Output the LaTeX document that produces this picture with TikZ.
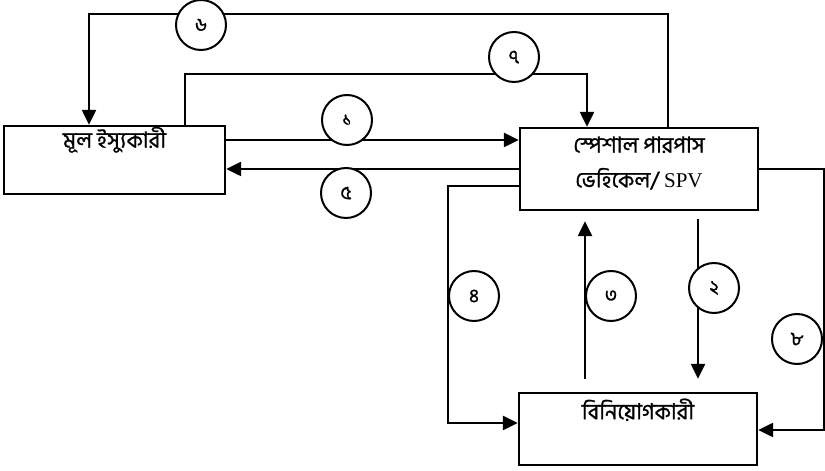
\documentclass[tikz,border=0pt]{standalone}
\usepackage{fontspec}
\newfontfamily\bnfont[Script=Bengali,FakeBold=1]{Hind Siliguri}
\newfontfamily\spvfont{Liberation Serif}
\usetikzlibrary{arrows.meta,positioning,calc}

\begin{document}
\begin{tikzpicture}
[x=1pt,y=1pt, line width=2.4pt,
box/.style={draw,rectangle,inner sep=0pt},
num/.style={circle,draw,fill=white,line width=2pt,minimum size=50pt,inner sep=0pt,font=\bnfont\fontsize{19}{19}\selectfont},
lbl/.style={inner sep=0pt,font=\bnfont\fontsize{22}{24}\selectfont},
flow/.style={-{Triangle[length=15pt,width=14pt]}}]
\useasboundingbox (0,0) rectangle (825,471);

\node (issuer) at (114.5,311) [box,minimum width=221pt,minimum height=68pt] {};
\node (spv) at (639,302) [box,minimum width=238pt,minimum height=82pt] {};
\node (investor) at (638,42) [box,minimum width=238pt,minimum height=72pt] {};

\node (issuerTxt) at ([yshift=-15pt]issuer.north) [lbl] {মূল ইস্যুকারী};
\node (spvTxtA) at ([yshift=-18pt]spv.north) [lbl] {স্পেশাল পারপাস};
\node (spvTxtB) at ([yshift=-52pt]spv.north) [lbl] {ভেহিকেল/ {\spvfont\fontsize{21}{22}\selectfont SPV}};
\node (investorTxt) at ([yshift=-18pt]investor.north) [lbl] {বিনিয়োগকারী};

\draw[flow] ([xshift=29pt]spv.north) -- ++(0,113) -| ([xshift=-25.5pt]issuer.north);
\draw[flow] ([xshift=70.5pt]issuer.north) -- ++(0,51) -| ([xshift=-52pt]spv.north);
\draw[flow] ([yshift=20pt]issuer.east) -- ([yshift=20pt]issuer.east -| spv.west);
\draw[flow] (spv.west) -- (spv.west -| issuer.east);
\draw[flow] ([yshift=-17pt]spv.west) -- ++(-71,0) |- ([yshift=6pt]investor.west);
\draw[flow] (spv.east) -- ++(65,0) |- ([yshift=-1pt]investor.east);
\coordinate (upA) at ([xshift=-53pt,yshift=13pt]investor.north);
\coordinate (upB) at ([yshift=-10pt]spv.south -| upA);
\draw[flow] (upA) -- (upB);
\coordinate (downA) at ([xshift=59pt,yshift=-8pt]spv.south);
\coordinate (downB) at ([yshift=13pt]investor.north -| downA);
\draw[flow] (downA) -- (downB);

\node (n1) at (347,351) [num] {১};
\node (n2) at (714,183) [num] {২};
\node (n3) at (611,175) [num] {৩};
\node (n4) at (474,175) [num] {৪};
\node (n5) at (346,278) [num] {৫};
\node (n6) at (201,446) [num] {৬};
\node (n7) at (514,414) [num] {৭};
\node (n8) at (797,132) [num] {৮};

\end{tikzpicture}
\end{document}
